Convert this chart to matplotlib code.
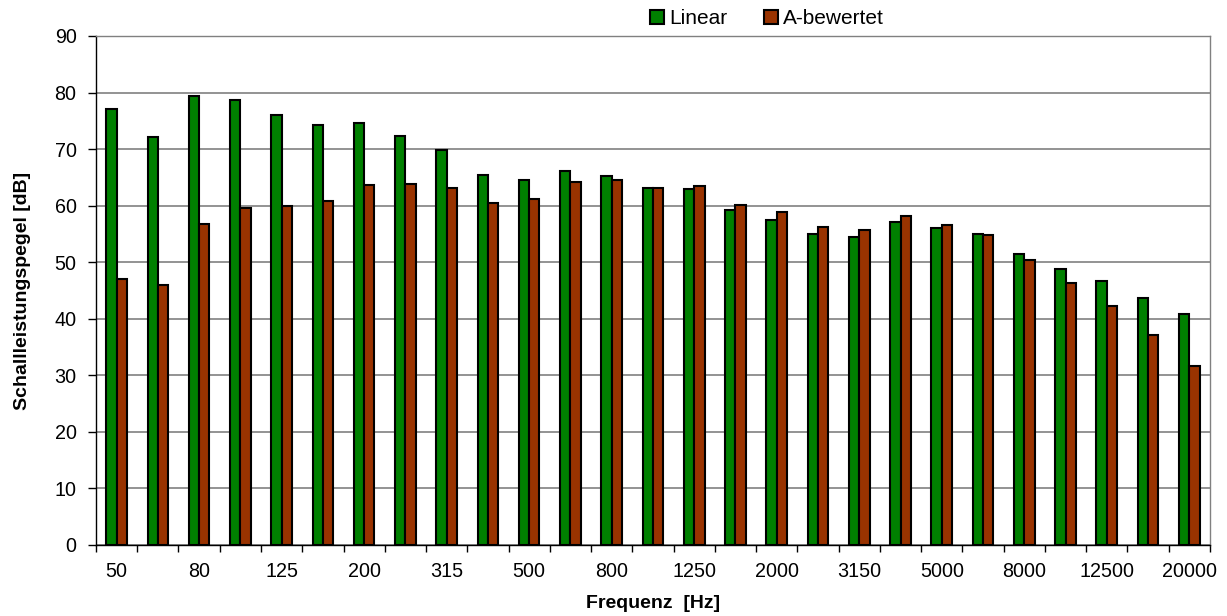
import numpy as np
import matplotlib.pyplot as plt

plt.rcParams['font.family'] = ['Liberation Sans', 'DejaVu Sans']

# Terzband-Mittenfrequenzen
freq = ["50", "63", "80", "100", "125", "160", "200", "250", "315", "400",
        "500", "630", "800", "1000", "1250", "1600", "2000", "2500", "3150",
        "4000", "5000", "6300", "8000", "10000", "12500", "16000", "20000"]

linear = [77.1, 72.1, 79.3, 78.7, 76.0, 74.3, 74.6, 72.3, 69.8, 65.4,
          64.5, 66.2, 65.3, 63.2, 62.9, 59.2, 57.5, 54.9, 54.5,
          57.1, 56.0, 54.9, 51.5, 48.8, 46.6, 43.7, 40.9]
a_bew = [47.0, 45.9, 56.8, 59.5, 59.9, 60.9, 63.6, 63.8, 63.2, 60.5,
         61.2, 64.2, 64.5, 63.2, 63.5, 60.2, 58.8, 56.2, 55.7,
         58.1, 56.5, 54.8, 50.4, 46.4, 42.3, 37.1, 31.6]

fig = plt.figure(figsize=(12.27, 6.16), dpi=100)
ax = fig.add_axes([0.0782, 0.1153, 0.9079, 0.8263])

x = np.arange(len(freq))
w = 0.25
ax.bar(x - w/2, linear, w, color="#008000", edgecolor="black", linewidth=1.5,
       label="Linear", zorder=3)
ax.bar(x + w/2, a_bew, w, color="#993300", edgecolor="black", linewidth=1.5,
       label="A-bewertet", zorder=3)

ax.set_xlim(-0.5, len(freq) - 0.5)
ax.set_ylim(0, 90)
ax.set_yticks(np.arange(0, 91, 10))
ax.yaxis.grid(True, color="#808080", linewidth=1.2, zorder=0)

# nur jede zweite Frequenz beschriften, Striche an den Klassengrenzen
ax.set_xticks(x[::2])
ax.set_xticklabels(freq[::2])
ax.set_xticks(np.arange(-0.5, len(freq), 1), minor=True)
ax.tick_params(axis="x", which="major", length=0, pad=12.5, labelsize=14.2)
ax.tick_params(axis="x", which="minor", length=5, width=1)
ax.tick_params(axis="y", length=6, width=1, pad=8, labelsize=14.2)

for s in ax.spines.values():
    s.set_linewidth(1)
for s in ["top", "right"]:
    ax.spines[s].set_color("#808080")

ax.set_xlabel("Frequenz  [Hz]", fontsize=14, fontweight="bold", labelpad=10)
ax.set_ylabel("Schallleistungspegel [dB]", fontsize=14, fontweight="bold", labelpad=17)

fig.legend(*ax.get_legend_handles_labels(), loc="center",
           bbox_to_anchor=(767/1227, 0.97), ncol=2, frameon=False,
           fontsize=15, handlelength=0.65, handleheight=0.65, handletextpad=0.25,
           columnspacing=1.8, borderaxespad=0, borderpad=0)

fig.savefig("out.png", dpi=100)
